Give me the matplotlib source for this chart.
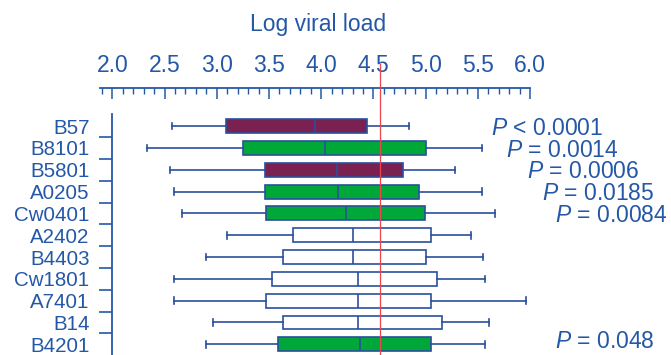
import matplotlib
matplotlib.use("Agg")
import matplotlib.pyplot as plt
from matplotlib.ticker import FixedLocator, MultipleLocator

plt.rcParams['font.family'] = ['Liberation Sans', 'DejaVu Sans']
plt.rcParams['mathtext.fontset'] = 'custom'
plt.rcParams['mathtext.it'] = 'Liberation Sans:italic'
plt.rcParams['mathtext.rm'] = 'Liberation Sans'

# HLA alleles, top to bottom
alleles = ['B57', 'B8101', 'B5801', 'A0205', 'Cw0401', 'A2402',
           'B4403', 'Cw1801', 'A7401', 'B14', 'B4201']
whis_lo = [2.57, 2.33, 2.55, 2.59, 2.67, 3.10, 2.90, 2.59, 2.59, 2.96, 2.90]
q1 = [3.09, 3.25, 3.46, 3.46, 3.47, 3.73, 3.63, 3.53, 3.47, 3.63, 3.59]
medians = [3.94, 4.04, 4.15, 4.16, 4.24, 4.30, 4.30, 4.35, 4.35, 4.35, 4.37]
q3 = [4.44, 5.00, 4.78, 4.94, 4.99, 5.05, 5.00, 5.11, 5.05, 5.16, 5.05]
whis_hi = [4.84, 5.54, 5.28, 5.54, 5.66, 5.43, 5.55, 5.57, 5.96, 5.61, 5.57]
# 'p' = protective (purple), 'g' = significant (green), '' = not significant
groups = ['p', 'g', 'p', 'g', 'g', '', '', '', '', '', 'g']
p_labels = {0: '$P$ < 0.0001', 1: '$P$ = 0.0014', 2: '$P$ = 0.0006',
            3: '$P$ = 0.0185', 4: '$P$ = 0.0084', 10: '$P$ = 0.048'}
p_xpos = {0: 5.625, 1: 5.77, 2: 5.975, 3: 6.113, 4: 6.24, 10: 6.24}
p_yoff = {0: 0.1, 1: 0.1, 2: 0.1, 3: 0.1, 4: 0.1, 10: -0.12}
median_all = 4.56

blue = '#2458a6'
edge = '#2a4f9c'
fills = {'p': '#7b2152', 'g': '#00a83a', '': 'white'}

fig = plt.figure(figsize=(6.71, 3.55), dpi=100)
ax = fig.add_axes([0.149, 0.0, 0.641, 0.679])

stats = []
for i, name in enumerate(alleles):
    stats.append({'label': name, 'whislo': whis_lo[i], 'q1': q1[i],
                  'med': medians[i], 'q3': q3[i], 'whishi': whis_hi[i],
                  'fliers': []})

bp = ax.bxp(stats, positions=range(len(alleles)), vert=False, widths=0.64,
            patch_artist=True, showfliers=False, manage_ticks=False,
            boxprops=dict(edgecolor=edge, linewidth=1.2),
            medianprops=dict(color=edge, linewidth=1.2),
            whiskerprops=dict(color=edge, linewidth=1.2),
            capprops=dict(color=edge, linewidth=1.2), capwidths=0.3)
for box, g in zip(bp['boxes'], groups):
    box.set_facecolor(fills[g])

ax.axvline(median_all, ymin=0, ymax=1.207, color='#e8474f', lw=0.9,
           clip_on=False, zorder=5)

ax.set_xlim(1.882, 6.0)
ax.set_ylim(10.49, -0.56)

# x axis on top, pushed away from the boxes
for s in ['right', 'bottom']:
    ax.spines[s].set_visible(False)
ax.spines['top'].set_position(('outward', 18.5))
ax.spines['top'].set_color(blue)
ax.spines['top'].set_linewidth(1.3)
ax.spines['left'].set_position(('data', 2.0))
ax.spines['left'].set_color(blue)
ax.spines['left'].set_linewidth(1.3)

ax.xaxis.tick_top()
ax.xaxis.set_major_locator(MultipleLocator(0.5))
ax.xaxis.set_minor_locator(MultipleLocator(0.1))
ax.xaxis.set_major_formatter('{x:.1f}')
ax.tick_params(axis='x', which='major', direction='in', length=8, width=1.1,
               color=blue, labelcolor=blue, labelsize=16.5, pad=8)
ax.tick_params(axis='x', which='minor', direction='in', length=4.3,
               width=1.0, color=blue)

# separators between rows, names at row centres
ax.yaxis.set_major_locator(FixedLocator([i + 0.5 for i in range(len(alleles) - 1)]))
ax.yaxis.set_major_formatter(lambda v, p: '')
ax.set_yticks(range(len(alleles)), alleles, minor=True)
ax.tick_params(axis='y', which='major', direction='out', length=9.4,
               width=1.2, color=blue)
ax.tick_params(axis='y', which='minor', length=0, pad=16.5,
               labelcolor=blue, labelsize=14.8)

for row, txt in p_labels.items():
    ax.text(p_xpos[row], row + p_yoff[row], txt, color=blue, fontsize=16.5,
            ha='left', va='center', clip_on=False)

fig.text(318 / 671, 1 - 24 / 355, 'Log viral load', color=blue,
         fontsize=16.5, ha='center', va='center')

fig.savefig('out.png', dpi=100)
